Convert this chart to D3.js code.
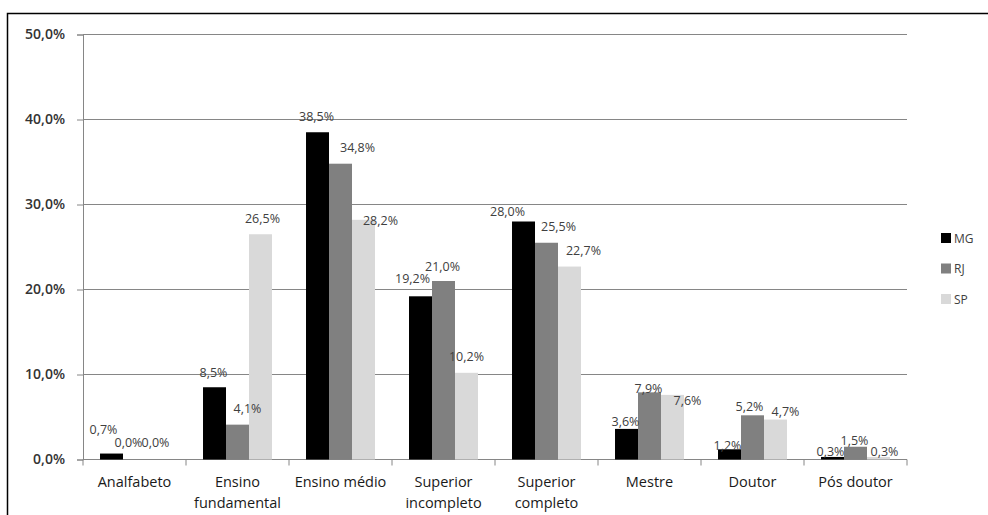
<!DOCTYPE html>
<html><head><meta charset="utf-8">
<script src="https://cdn.jsdelivr.net/npm/d3@7"></script>
<style>html,body{margin:0;padding:0;background:#fff}svg{display:block}</style>
</head><body>
<script>
const categories = ["Analfabeto","Ensino fundamental","Ensino médio","Superior incompleto","Superior completo","Mestre","Doutor","Pós doutor"];
const categoryLines = [["Analfabeto"],["Ensino","fundamental"],["Ensino médio"],["Superior","incompleto"],["Superior","completo"],["Mestre"],["Doutor"],["Pós doutor"]];
const seriesNames = ["MG","RJ","SP"];
const mgValues = [0.7, 8.5, 38.5, 19.2, 28.0, 3.6, 1.2, 0.3];
const rjValues = [0.0, 4.1, 34.8, 21.0, 25.5, 7.9, 5.2, 1.5];
const spValues = [0.0, 26.5, 28.2, 10.2, 22.7, 7.6, 4.7, 0.3];
const yTicks = [0, 10, 20, 30, 40, 50];
const colors = ["#000000", "#808080", "#d9d9d9"];
// label nudges [dx, lift] mimicking the original label placement
const labelNudge = [
  [[-8,24],[-1,15],[-1,16],[-8,18],[-16,10],[-1,7],[-2,4],[-2,5]],
  [[-6,17],[10,16],[17,16],[-1,15],[12,16],[-1,4],[-3,9],[-1,6]],
  [[-2,17],[2,16],[17,-1],[0,16],[14,16],[15,-6],[10,8],[6,5]]
];

const W = 988, H = 515;
const svg = d3.select("body").append("svg").attr("width", W).attr("height", H);
svg.append("rect").attr("x", 7.5).attr("y", 13.5).attr("width", 1000).attr("height", 600)
  .attr("fill", "none").attr("stroke", "#000").attr("stroke-width", 1.5);

const m = {left: 83, right: 907, top: 34.5, bottom: 459.5};
const x0 = d3.scaleBand().domain(categories).range([m.left, m.right]).paddingInner(0).paddingOuter(0);
const x1 = d3.scaleBand().domain(seriesNames).range([0, x0.bandwidth()]).paddingInner(0).paddingOuter(0.74);
const y = d3.scaleLinear().domain([0, 50]).range([m.bottom, m.top]);

const fmt = v => d3.format(".1f")(v).replace(".", ",") + "%";

// gridlines
svg.append("g").selectAll("line").data(yTicks.filter(t => t > 0)).join("line")
  .attr("x1", m.left).attr("x2", m.right).attr("y1", d => y(d)).attr("y2", d => y(d))
  .attr("stroke", "#868686").attr("stroke-width", 1);

// y axis
const yAxis = svg.append("g").attr("transform", `translate(${m.left},0)`)
  .call(d3.axisLeft(y).tickValues(yTicks).tickSize(6).tickFormat(d => d3.format(".1f")(d).replace(".", ",") + "%"));
yAxis.select(".domain").attr("stroke", "#868686");
yAxis.selectAll(".tick line").attr("stroke", "#868686");
yAxis.selectAll("text").attr("x", -18).attr("font-family", "Open Sans").attr("font-size", 14)
  .attr("font-weight", "600").attr("fill", "#333");

// x axis
const xAxis = svg.append("g").attr("transform", `translate(0,${m.bottom})`);
xAxis.append("line").attr("x1", m.left).attr("x2", m.right).attr("stroke", "#868686");
const bounds = categories.map(c => x0(c)).concat([m.right]);
xAxis.selectAll("line.tk").data(bounds).join("line").attr("class", "tk")
  .attr("x1", d => d).attr("x2", d => d).attr("y1", 0).attr("y2", 6).attr("stroke", "#868686");
const xl = xAxis.selectAll("text.cat").data(categories).join("text").attr("class", "cat")
  .attr("x", d => x0(d) + x0.bandwidth() / 2).attr("y", 27)
  .attr("text-anchor", "middle").attr("font-family", "Open Sans").attr("font-size", 14.5)
  .attr("fill", "#1a1a1a");
xl.each(function(d, i) {
  const t = d3.select(this);
  categoryLines[i].forEach((ln, j) => {
    t.append("tspan").attr("x", x0(d) + x0.bandwidth() / 2).attr("dy", j === 0 ? 0 : 21).text(ln);
  });
});

// bars
const series = [mgValues, rjValues, spValues];
series.forEach((vals, s) => {
  svg.append("g").selectAll("rect").data(vals).join("rect")
    .attr("x", (d, i) => x0(categories[i]) + x1(seriesNames[s]))
    .attr("width", x1.bandwidth())
    .attr("y", d => y(d)).attr("height", d => y(0) - y(d))
    .attr("fill", colors[s]);
});
// data labels (on top of all bars)
series.forEach((vals, s) => {
  svg.append("g").selectAll("text").data(vals).join("text")
    .attr("x", (d, i) => x0(categories[i]) + x1(seriesNames[s]) + x1.bandwidth() / 2 + labelNudge[s][i][0])
    .attr("y", (d, i) => y(d) - labelNudge[s][i][1] + 4.5)
    .attr("text-anchor", "middle").attr("font-family", "Open Sans").attr("font-size", 12.5)
    .attr("fill", "#404040").text(d => fmt(d));
});

// legend
const lg = svg.append("g");
seriesNames.forEach((n, i) => {
  const cy = 238 + i * 30.5;
  lg.append("rect").attr("x", 941).attr("y", cy - 5).attr("width", 10).attr("height", 10).attr("fill", colors[i]);
  lg.append("text").attr("x", 954).attr("y", cy + 4.5).attr("font-family", "Open Sans").attr("font-size", 12)
    .attr("fill", "#404040").text(n);
});
</script>
</body></html>
